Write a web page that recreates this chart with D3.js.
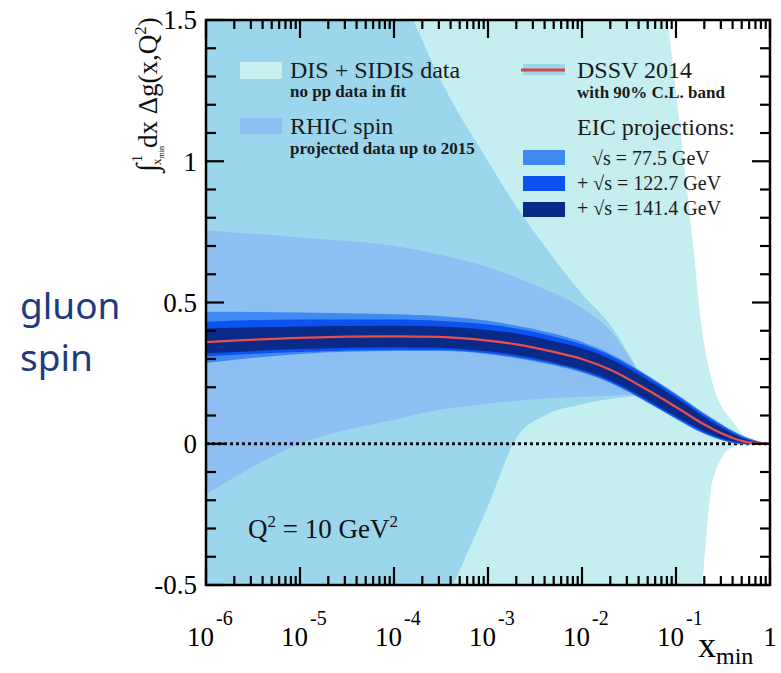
<!DOCTYPE html>
<html>
<head>
<meta charset="utf-8">
<script src="https://cdn.jsdelivr.net/npm/d3@7"></script>
<style>
  body { margin: 0; background: #fff; }
  svg { display: block; }
</style>
</head>
<body>
<div id="chart"></div>
<script>
// x_min grid used by the DSSV central curve and the EIC bands
const gridX = [1e-6, 1e-5, 1e-4, 3e-4, 1e-3, 2e-3, 5e-3, 1e-2, 2e-2, 5e-2, 0.1, 0.2, 0.3, 0.5, 0.7, 1];
const dssvCentral = [0.36, 0.375, 0.38, 0.378, 0.365, 0.352, 0.325, 0.30, 0.262, 0.19, 0.13, 0.068, 0.038, 0.01, 0.002, 0];

// EIC projections (upper / lower edges)
const eic77Hi  = [0.467, 0.465, 0.458, 0.452, 0.435, 0.418, 0.39, 0.36, 0.318, 0.242, 0.177, 0.108, 0.071, 0.03, 0.012, 0];
const eic77Lo  = [0.286, 0.318, 0.328, 0.328, 0.317, 0.303, 0.278, 0.252, 0.215, 0.145, 0.088, 0.035, 0.013, -0.002, -0.003, 0];
const eic122Hi = [0.432, 0.44, 0.44, 0.435, 0.422, 0.408, 0.38, 0.352, 0.312, 0.237, 0.172, 0.103, 0.066, 0.026, 0.009, 0];
const eic122Lo = [0.31, 0.325, 0.332, 0.332, 0.32, 0.307, 0.282, 0.256, 0.219, 0.149, 0.091, 0.038, 0.016, 0.0, -0.001, 0];
const eic141Hi = [0.408, 0.415, 0.418, 0.415, 0.403, 0.39, 0.363, 0.338, 0.30, 0.226, 0.163, 0.095, 0.058, 0.021, 0.007, 0];
const eic141Lo = [0.32, 0.335, 0.342, 0.34, 0.327, 0.314, 0.288, 0.262, 0.225, 0.155, 0.097, 0.043, 0.02, 0.003, 0.0, 0];

// RHIC spin projected band
const rhicX  = [1e-6, 1e-5, 1e-4, 3e-4, 1e-3, 3e-3, 1e-2, 2e-2, 4e-2];
const rhicHi = [0.756, 0.73, 0.70, 0.67, 0.625, 0.565, 0.48, 0.40, 0.255];
const rhicLo = [-0.18, 0.0, 0.085, 0.12, 0.142, 0.157, 0.166, 0.17, 0.175];

// DSSV 2014 90% C.L. band
const dssvX  = [1e-6, 1e-5, 3e-5, 1e-4, 1.6e-4, 3e-4, 1e-3, 2e-3, 4e-3, 1e-2, 2e-2, 4e-2];
const dssvHi = [3.0, 2.4, 2.0, 1.65, 1.5, 1.3, 1.0, 0.84, 0.70, 0.53, 0.42, 0.255];
const dssvLo = [-3.0, -2.2, -1.6, -1.1, -0.85, -0.62, -0.22, 0.02, 0.10, 0.14, 0.158, 0.17];

// DIS + SIDIS data band (no pp data in fit)
const disX  = [1e-6, 1e-3, 1e-2, 3e-2, 5e-2, 8.2e-2, 0.126, 0.158, 0.18, 0.245, 0.41, 0.62, 1];
const disHi = [8, 5, 3.5, 2.6, 2.2, 1.5, 0.95, 0.65, 0.46, 0.215, 0.074, 0.012, 0];
const disLo = [-8, -5, -3.5, -2.4, -1.8, -1.2, -0.8, -0.6, -0.55, -0.13, -0.01, -0.001, 0];

const xTickExps = [-6, -5, -4, -3, -2, -1];
const yTickLabels = ["-0.5", "0", "0.5", "1", "1.5"];

const width = 781, height = 673;
const plot = { left: 206, right: 770, top: 20, bottom: 585 };
const serif = "'Liberation Serif', 'Times New Roman', serif";

const svg = d3.select("#chart").append("svg")
  .attr("width", width)
  .attr("height", height);

const x = d3.scaleLog().domain([1e-6, 1]).range([plot.left, plot.right]);
const y = d3.scaleLinear().domain([-0.5, 1.5]).range([plot.bottom, plot.top]);

svg.append("clipPath").attr("id", "plotClip")
  .append("rect")
  .attr("x", plot.left).attr("y", plot.top)
  .attr("width", plot.right - plot.left).attr("height", plot.bottom - plot.top);

const g = svg.append("g").attr("clip-path", "url(#plotClip)");

function band(xs, lo, hi) {
  return xs.map((v, i) => ({ x: v, lo: lo[i], hi: hi[i] }));
}

const area = d3.area()
  .x(d => x(d.x))
  .y0(d => y(d.lo))
  .y1(d => y(d.hi))
  .curve(d3.curveMonotoneX);

// bands, back to front
g.append("path").datum(band(disX, disLo, disHi)).attr("d", area).attr("fill", "#c4eef0");
g.append("path").datum(band(dssvX, dssvLo, dssvHi)).attr("d", area).attr("fill", "#9bd6ec");
g.append("path").datum(band(rhicX, rhicLo, rhicHi)).attr("d", area).attr("fill", "#8ebff2");

// zero line
g.append("line")
  .attr("x1", plot.left).attr("x2", plot.right)
  .attr("y1", y(0)).attr("y2", y(0))
  .attr("stroke", "#0d0d1a").attr("stroke-width", 2.8)
  .attr("stroke-dasharray", "3,3");

g.append("path").datum(band(gridX, eic77Lo, eic77Hi)).attr("d", area).attr("fill", "#3e8af0");
g.append("path").datum(band(gridX, eic122Lo, eic122Hi)).attr("d", area).attr("fill", "#0b52f0");
g.append("path").datum(band(gridX, eic141Lo, eic141Hi)).attr("d", area).attr("fill", "#0a2a8a");

// DSSV central curve
const line = d3.line()
  .x((d, i) => x(gridX[i]))
  .y(d => y(d))
  .curve(d3.curveMonotoneX);

g.append("path").datum(dssvCentral)
  .attr("d", line)
  .attr("fill", "none")
  .attr("stroke", "#e8504a")
  .attr("stroke-width", 2.2);

// frame
svg.append("rect")
  .attr("x", plot.left).attr("y", plot.top)
  .attr("width", plot.right - plot.left).attr("height", plot.bottom - plot.top)
  .attr("fill", "none").attr("stroke", "#000").attr("stroke-width", 2.5);

// ticks (inside, mirrored)
const ticks = svg.append("g").attr("stroke", "#000").attr("stroke-width", 2.2);

x.ticks().forEach(t => {
  const major = Math.abs(Math.log10(t) - Math.round(Math.log10(t))) < 1e-9;
  const len = major ? 18 : 9;
  ticks.append("line").attr("x1", x(t)).attr("x2", x(t)).attr("y1", plot.bottom).attr("y2", plot.bottom - len);
  ticks.append("line").attr("x1", x(t)).attr("x2", x(t)).attr("y1", plot.top).attr("y2", plot.top + len);
});

d3.range(-5, 16).forEach(k => {
  const v = k / 10;
  const major = k % 5 === 0;
  const len = major ? 18 : 10;
  ticks.append("line").attr("x1", plot.left).attr("x2", plot.left + len).attr("y1", y(v)).attr("y2", y(v));
  ticks.append("line").attr("x1", plot.right).attr("x2", plot.right - len).attr("y1", y(v)).attr("y2", y(v));
});

// y tick labels
yTickLabels.forEach(lbl => {
  svg.append("text")
    .attr("x", 197).attr("y", y(+lbl))
    .attr("dy", "0.35em")
    .attr("text-anchor", "end")
    .style("font-family", serif).style("font-size", "27px")
    .text(lbl);
});

// x tick labels 10^n
xTickExps.forEach(e => {
  const px = x(Math.pow(10, e));
  svg.append("text")
    .attr("x", px + 8).attr("y", 646)
    .attr("text-anchor", "end")
    .style("font-family", serif).style("font-size", "27px")
    .text("10");
  svg.append("text")
    .attr("x", px + 10).attr("y", 625)
    .style("font-family", serif).style("font-size", "20px")
    .text(String(e));
});
svg.append("text")
  .attr("x", x(1)).attr("y", 646)
  .attr("text-anchor", "middle")
  .style("font-family", serif).style("font-size", "27px")
  .text("1");

// x axis title
svg.append("text")
  .attr("x", 698).attr("y", 657)
  .style("font-family", serif).style("font-size", "36px")
  .text("x")
  .append("tspan")
  .attr("dy", 7)
  .style("font-size", "24px")
  .text("min");

// y axis title, rotated
const yt = svg.append("g").attr("transform", "translate(157,172) rotate(-90)")
  .style("font-family", serif).attr("fill", "#111");
yt.append("text").attr("x", 0).attr("y", 0).style("font-size", "30px").text("∫");
yt.append("text").attr("x", 10).attr("y", -15).style("font-size", "14px").text("1");
yt.append("text").attr("x", 7).attr("y", 4).style("font-size", "13px").text("x")
  .append("tspan").attr("dy", 3).style("font-size", "8px").text("min");
const ytMain = yt.append("text").attr("x", 24).attr("y", 0).style("font-size", "27px").text("dx Δg(x,Q");
ytMain.append("tspan").attr("dy", -11).style("font-size", "17px").text("2");
ytMain.append("tspan").attr("dy", 11).text(")");

// left annotation
const side = svg.append("g")
  .style("font-family", "'Noto Sans', 'Open Sans', sans-serif")
  .style("font-size", "37px")
  .attr("fill", "#1f3a80");
side.append("text").attr("x", 20).attr("y", 319).text("gluon");
side.append("text").attr("x", 20).attr("y", 371).text("spin");

// Q^2 label
const q = svg.append("text")
  .attr("x", 248).attr("y", 538)
  .style("font-family", serif).style("font-size", "27px")
  .attr("fill", "#111")
  .text("Q");
q.append("tspan").attr("dy", -11).style("font-size", "17px").text("2");
q.append("tspan").attr("dy", 11).text(" = 10 GeV");
q.append("tspan").attr("dy", -11).style("font-size", "17px").text("2");

// legend
const legend = svg.append("g").style("font-family", serif).attr("fill", "#1a1a1a");

legend.append("rect").attr("x", 240).attr("y", 62).attr("width", 42).attr("height", 17).attr("fill", "#c8f0f0");
legend.append("text").attr("x", 290).attr("y", 78).style("font-size", "24px").text("DIS + SIDIS data");
legend.append("text").attr("x", 290).attr("y", 97).style("font-size", "17px").style("font-weight", "bold").text("no pp data in fit");

legend.append("rect").attr("x", 240).attr("y", 118).attr("width", 42).attr("height", 16).attr("fill", "#8ebff2");
legend.append("text").attr("x", 290).attr("y", 134).style("font-size", "24px").text("RHIC spin");
legend.append("text").attr("x", 290).attr("y", 154).style("font-size", "17px").style("font-weight", "bold").text("projected data up to 2015");

legend.append("rect").attr("x", 523).attr("y", 64).attr("width", 42).attr("height", 11).attr("fill", "#9bd6ec");
legend.append("line").attr("x1", 521).attr("x2", 565).attr("y1", 70).attr("y2", 70)
  .attr("stroke", "#d9434d").attr("stroke-width", 3);
legend.append("text").attr("x", 577).attr("y", 78).style("font-size", "24px").text("DSSV 2014");
legend.append("text").attr("x", 577).attr("y", 98).style("font-size", "17px").style("font-weight", "bold").text("with 90% C.L. band");

legend.append("text").attr("x", 577).attr("y", 135).style("font-size", "24px").text("EIC projections:");

const eicLegend = [
  { color: "#3e8af0", label: "√s = 77.5 GeV", tx: 592 },
  { color: "#0b52f0", label: "+ √s = 122.7 GeV", tx: 577 },
  { color: "#0a2a8a", label: "+ √s = 141.4 GeV", tx: 577 }
];
eicLegend.forEach((d, i) => {
  legend.append("rect").attr("x", 523).attr("y", 150 + i * 26).attr("width", 42).attr("height", 15).attr("fill", d.color);
  legend.append("text").attr("x", d.tx).attr("y", 165 + i * 25).style("font-size", "20px").text(d.label);
});
</script>
</body>
</html>
